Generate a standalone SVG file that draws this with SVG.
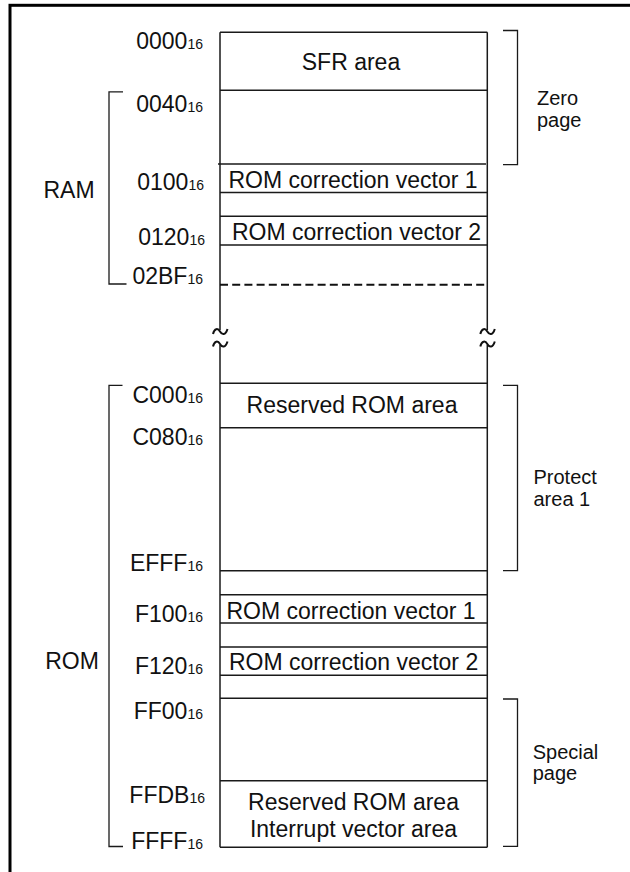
<svg xmlns="http://www.w3.org/2000/svg" width="630" height="872" viewBox="0 0 630 872">
<style>
text{font-family:"Liberation Sans",Arial,Helvetica,sans-serif;fill:#111}
.m{font-size:23px;text-anchor:middle}
.a{font-size:23px;text-anchor:end}
.s{font-size:14px}
.r{font-size:20px}
.ln{stroke:#1a1a1a;stroke-width:1.5;fill:none}
.tl{stroke:#111;stroke-width:2;fill:none}
.br{stroke:#1a1a1a;stroke-width:1.3;fill:none}
</style>
<rect width="630" height="872" fill="#fff"/>
<rect id="frame" x="10" y="5.3" width="700" height="900" fill="none" stroke="#000" stroke-width="3"/>

<g id="memory-map">
  <g id="walls">
    <path class="ln" d="M220,32.3V330M487.3,32.3V330M220,345V847.3M487.3,345V847.3"/>
    <path class="tl" d="M213,334C214.5,328 218,328 220,331.5S225.5,335.5 227.5,329"/>
    <path class="tl" d="M213,346.5C214.5,340.5 218,340.5 220,344S225.5,348 227.5,341.5"/>
    <path class="tl" d="M480.3,334C481.8,328 485.3,328 487.3,331.5S492.8,335.5 494.8,329"/>
    <path class="tl" d="M480.3,346.5C481.8,340.5 485.3,340.5 487.3,344S492.8,348 494.8,341.5"/>
  </g>
  <g id="sfr-area">
    <path class="ln" d="M220,32.3H487.3M220,90.3H487.3"/>
    <text class="m" x="351" y="70">SFR area</text>
  </g>
  <g id="ram-rom-correction-vector-1">
    <path class="ln" d="M218,164H486M220,192.5H487.3"/>
    <text class="m" x="353" y="188.3">ROM correction vector 1</text>
  </g>
  <g id="ram-rom-correction-vector-2">
    <path class="ln" d="M220,216.3H487.3M220,245H487.3"/>
    <text class="m" x="356.5" y="240">ROM correction vector 2</text>
  </g>
  <g id="ram-end">
    <path d="M220,284.7H487.3" stroke="#111" stroke-width="2" stroke-dasharray="8 4.2" fill="none"/>
  </g>
  <g id="reserved-rom-area-top">
    <path class="ln" d="M220,383.3H487.3M220,427.7H487.3"/>
    <text class="m" x="352" y="413.3">Reserved ROM area</text>
  </g>
  <g id="protect-area-end">
    <path class="ln" d="M220,570.7H487.3"/>
  </g>
  <g id="rom-rom-correction-vector-1">
    <path class="ln" d="M220,594.7H487.3M220,623H487.3"/>
    <text class="m" x="351" y="618.7">ROM correction vector 1</text>
  </g>
  <g id="rom-rom-correction-vector-2">
    <path class="ln" d="M220,647H487.3M220,675.3H487.3"/>
    <text class="m" x="353.6" y="670.3">ROM correction vector 2</text>
  </g>
  <g id="special-page-area">
    <path class="ln" d="M220,698.3H487.3"/>
  </g>
  <g id="reserved-rom-interrupt-vector-area">
    <path class="ln" d="M220,780.7H487.3M220,847.3H487.3"/>
    <text class="m" x="353.5" y="810">Reserved ROM area</text>
    <text class="m" x="353.5" y="836.7">Interrupt vector area</text>
  </g>
</g>

<g id="addresses">
  <text class="a" x="203" y="48.5">0000<tspan class="s">16</tspan></text>
  <text class="a" x="203" y="112.3">0040<tspan class="s">16</tspan></text>
  <text class="a" x="204" y="190">0100<tspan class="s">16</tspan></text>
  <text class="a" x="205" y="245">0120<tspan class="s">16</tspan></text>
  <text class="a" x="203" y="283.5">02BF<tspan class="s">16</tspan></text>
  <text class="a" x="203" y="402.7">C000<tspan class="s">16</tspan></text>
  <text class="a" x="203" y="445">C080<tspan class="s">16</tspan></text>
  <text class="a" x="203" y="571">EFFF<tspan class="s">16</tspan></text>
  <text class="a" x="203" y="622">F100<tspan class="s">16</tspan></text>
  <text class="a" x="203" y="673.7">F120<tspan class="s">16</tspan></text>
  <text class="a" x="203" y="718.7">FF00<tspan class="s">16</tspan></text>
  <text class="a" x="205" y="802.7">FFDB<tspan class="s">16</tspan></text>
  <text class="a" x="203" y="849.3">FFFF<tspan class="s">16</tspan></text>
</g>

<g id="connectors">
  <g id="ram-bracket">
    <path class="br" d="M123,91.8H109V284H126.5"/>
    <text class="m" x="69" y="197.7">RAM</text>
  </g>
  <g id="rom-bracket">
    <path class="br" d="M122.5,385.3H109V846.5H123"/>
    <text class="m" x="72" y="668.7">ROM</text>
  </g>
  <g id="zero-page-bracket">
    <path class="br" d="M503,30.5H517.5V164.7H503"/>
    <text class="r" x="537" y="105.3">Zero</text>
    <text class="r" x="537" y="127.3">page</text>
  </g>
  <g id="protect-area-bracket">
    <path class="br" d="M503,385.3H517.5V570.7H503"/>
    <text class="r" x="533.5" y="484">Protect</text>
    <text class="r" x="533.5" y="506">area 1</text>
  </g>
  <g id="special-page-bracket">
    <path class="br" d="M503,699H517.5V846.3H503"/>
    <text class="r" x="532.7" y="758.7">Special</text>
    <text class="r" x="532.7" y="780.3">page</text>
  </g>
</g>
</svg>
